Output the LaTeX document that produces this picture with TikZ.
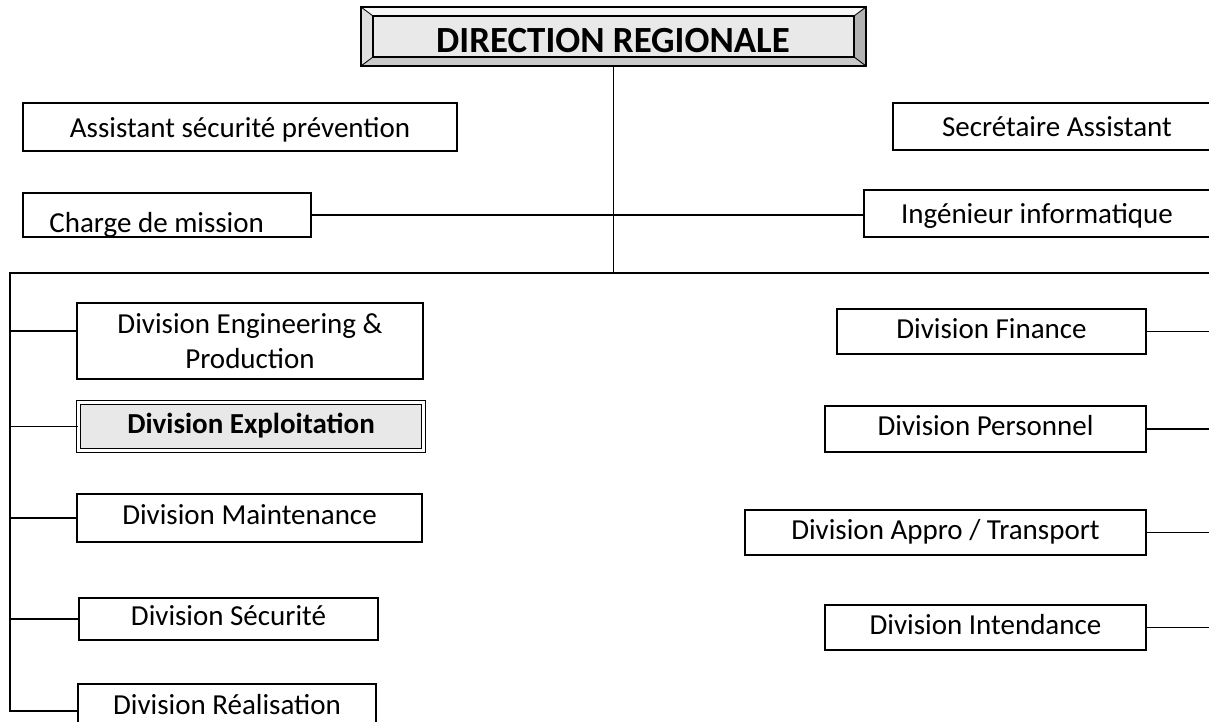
\documentclass[tikz,border=0pt]{standalone}
\usepackage{fontspec}
\setmainfont{Carlito}
\usetikzlibrary{calc}

\tikzset{
  poste/.style={draw, line width=1pt, inner sep=0pt,
    text height=12.5pt, text depth=4.8pt, font=\fontsize{16.5}{20}\selectfont},
  postehaut/.style={poste, text height=14pt, text depth=2.6pt},
  lien/.style={line width=1pt},
}

\begin{document}
\begin{tikzpicture}
			%%%%% START %%%%%
			\useasboundingbox (0,0) rectangle (24.18,-14.44);
			\clip (0,0) rectangle (24.18,-14.44);

			% direction regionale, cadre en relief
			\node[draw, line width=1pt, fill=gray!17, minimum width=10.06cm, minimum height=1.14cm] (dr) at (12.27,-0.73) {};
			\coordinate (i1) at (7.46,-0.32);
			\coordinate (i2) at (17.08,-0.32);
			\coordinate (i3) at (17.08,-1.14);
			\coordinate (i4) at (7.46,-1.14);
			\fill[gray!6] (dr.north west) -- (dr.north east) -- (i2) -- (i1) -- cycle;
			\fill[gray!60] (dr.north east) -- (dr.south east) -- (i3) -- (i2) -- cycle;
			\fill[gray!42] (dr.south east) -- (dr.south west) -- (i4) -- (i3) -- cycle;
			\fill[gray!25] (dr.south west) -- (dr.north west) -- (i1) -- (i4) -- cycle;
			\draw[line width=0.5pt] (dr.north west) -- (i1) (dr.north east) -- (i2) (dr.south east) -- (i3) (dr.south west) -- (i4);
			\draw[line width=0.7pt] (i1) rectangle (i3);
			\draw[line width=1pt] (dr.north west) rectangle (dr.south east);
			\node[font=\fontsize{21}{25}\selectfont\bfseries] (drt) at (12.26,-0.82) {DIRECTION REGIONALE};

			% postes rattaches
			\node[postehaut, minimum width=8.68cm, minimum height=0.96cm] (asp) at (4.80,-2.54) {Assistant sécurité prévention};
			\node[postehaut, minimum width=6.56cm, minimum height=0.94cm] (sa) at (21.14,-2.53) {Secrétaire Assistant};
			\node[poste, minimum width=5.76cm, minimum height=0.88cm] (cm) at (3.34,-4.30) {};
			\begin{scope}
				\clip (cm.south west) rectangle (cm.north east);
				\node[anchor=base west, inner sep=0pt, font=\fontsize{16.5}{20}\selectfont] (cmt) at (0.98,-4.66) {Charge de mission};
			\end{scope}
			\node[postehaut, minimum width=6.92cm, minimum height=0.94cm] (ii) at (20.74,-4.27) {Ingénieur informatique};

			% divisions de gauche
			\node[poste, text height={}, text depth={}, align=center, minimum width=6.92cm, minimum height=1.52cm] (eng) at (5.00,-6.82) {Division Engineering \&\\ Production};
			\node[poste, fill=gray!18, double, double distance=1.3pt, line width=0.9pt, minimum width=6.9cm, minimum height=0.96cm,
				font=\fontsize{16.5}{20}\selectfont\bfseries] (expl) at (5.02,-8.53) {Division Exploitation};
			\node[poste, minimum width=6.90cm, minimum height=0.96cm] (maint) at (4.99,-10.36) {Division Maintenance};
			\node[poste, minimum width=5.98cm, minimum height=0.84cm] (secu) at (4.57,-12.38) {Division Sécurité};
			\node[poste, minimum width=5.96cm, minimum height=0.96cm] (real) at (4.54,-14.16) {Division Réalisation};

			% divisions de droite
			\node[poste, minimum width=6.18cm, minimum height=0.90cm] (fin) at (19.83,-6.63) {Division Finance};
			\node[poste, minimum width=6.42cm, minimum height=0.92cm] (pers) at (19.71,-8.58) {Division Personnel};
			\node[poste, minimum width=8.02cm, minimum height=0.90cm] (appro) at (18.91,-10.65) {Division Appro / Transport};
			\node[poste, minimum width=6.42cm, minimum height=0.90cm] (int) at (19.71,-12.55) {Division Intendance};

			% liaisons
			\coordinate (bg) at (0.2,-5.46);
			\coordinate (bd) at (24.3,-5.46);
			\coordinate (bb) at (0.2,-14.22);
			\draw[lien] (dr.south) -- (dr.south |- bg);
			\draw[lien] (cm.east) -- (cm.east -| ii.west);
			\draw[lien] (bd) -- (bg) -- (bb) -- (bb -| real.west);
			\draw[lien] ([yshift=0.2cm]eng.west) -- ([yshift=0.2cm]eng.west -| bg);
			\draw[lien] (expl.west) -- (expl.west -| bg);
			\draw[lien] (maint.west) -- (maint.west -| bg);
			\draw[lien] (secu.west) -- (secu.west -| bg);
			\draw[lien] (fin.east) -- (fin.east -| bd);
			\draw[lien] (pers.east) -- (pers.east -| bd);
			\draw[lien] (appro.east) -- (appro.east -| bd);
			\draw[lien] (int.east) -- (int.east -| bd);
			%%%%% END %%%%%
\end{tikzpicture}
\end{document}
